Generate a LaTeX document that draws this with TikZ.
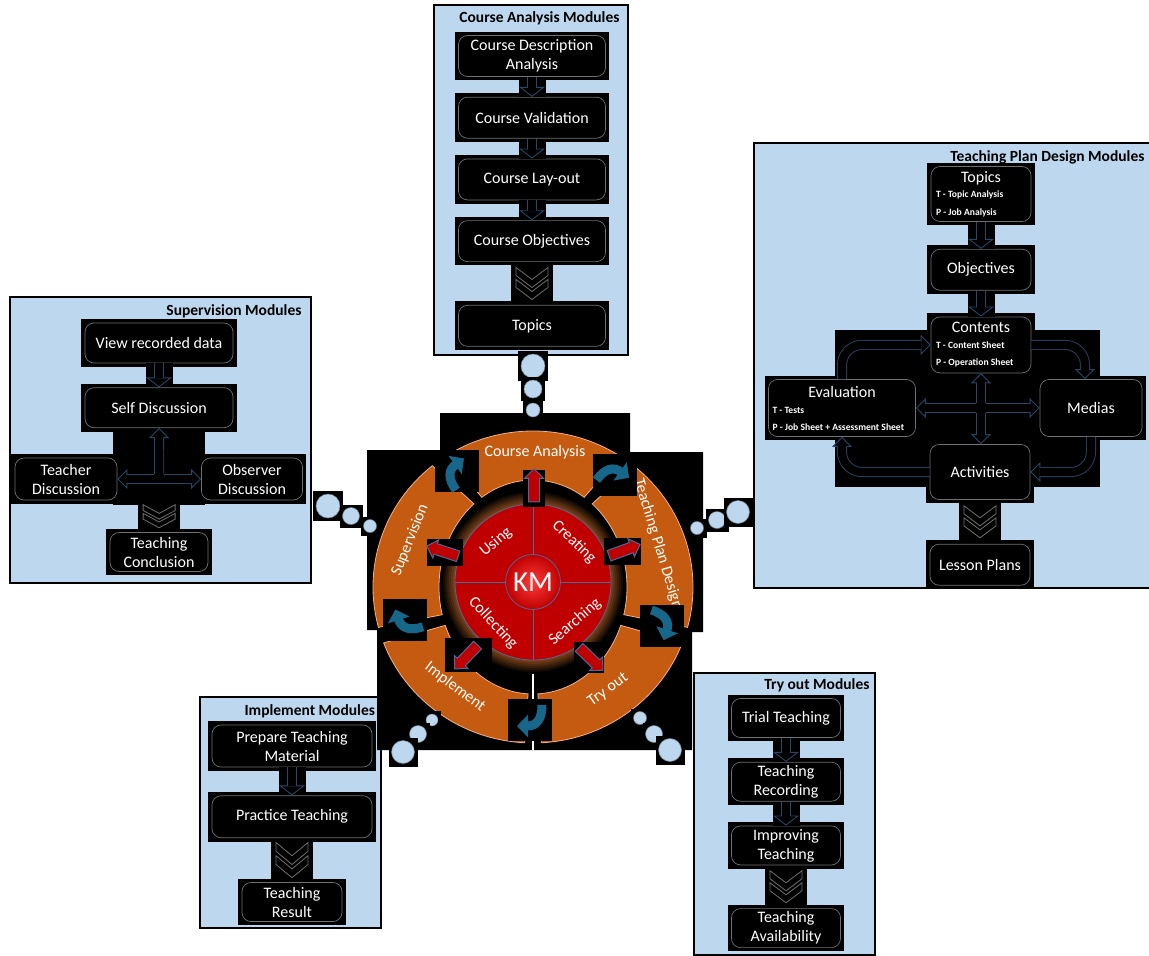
\documentclass[tikz,border=0pt]{standalone}
\usepackage{fontspec}
\setmainfont{Carlito}
\usetikzlibrary{arrows.meta,positioning,fit,backgrounds,calc,shapes.arrows}
\definecolor{skyFill}{HTML}{BDD7EE}
\definecolor{stageDraw}{HTML}{707070}
\definecolor{flowDraw}{HTML}{2A4566}
\definecolor{ringOrange}{HTML}{C55A11}
\definecolor{ringEdge}{HTML}{F4B183}
\definecolor{kmRed}{HTML}{C00000}
\definecolor{kmBright}{HTML}{FF3B3B}
\definecolor{rimBlue}{HTML}{4A6A9C}
\definecolor{glowBrown}{HTML}{8A4A1C}
\definecolor{turnTeal}{HTML}{17678A}
\newcommand{\detail}[1]{{\fontsize{9.6}{11}\selectfont\bfseries #1}}
\tikzset{
  font=\fontsize{16}{19}\selectfont,
  >={Triangle[length=10pt, width=20pt, fill=black, line width=0.9pt]},
  modbox/.style  ={draw=black, line width=2pt, fill=skyFill},
  modtitle/.style={font=\fontsize{15.5}{18}\selectfont\bfseries},
  stage/.style   ={draw=stageDraw, rounded corners=9pt, fill=black, text=white, align=center, inner sep=2pt, line width=0.7pt},
  backing/.style ={fill=black, inner sep=3.5pt},
  blockarr/.style={draw=flowDraw, line width=10pt, ->, postaction={draw=black, line width=8.2pt, shorten >=9pt, -}},
  twoarr/.style  ={draw=flowDraw, line width=10pt, <->, postaction={draw=black, line width=8.2pt, shorten >=9pt, shorten <=9pt, -}},
  flowarr/.style ={blockarr, -{Triangle[length=10pt, width=26pt, fill=black, line width=0.9pt]}, preaction={draw=black, line width=27pt, -}},
  chevline/.style={draw=stageDraw, line width=0.8pt},
  segment/.style ={fill=ringOrange, draw=ringEdge, line width=0.8pt},
  ringtext/.style={text=white, inner sep=0pt},
  outarr/.style  ={single arrow, fill=kmRed, draw=rimBlue, line width=1pt, minimum height=33pt, text height=5pt, text depth=5pt, single arrow head extend=4pt, inner sep=0pt},
  bubble/.style  ={fill=skyFill, draw=skyFill!60!black, line width=0.5pt},
  chev/.pic={
    \fill[black] (-21,-19) rectangle (21,19);
    \draw[chevline] (-16,-16) -- (0,-4) -- (16,-16) -- (16,-8) -- (0,4) -- (-16,-8) -- cycle;
    \draw[chevline] (-16,-4) -- (0,8) -- (16,-4) -- (16,4) -- (0,16) -- (-16,4) -- cycle;
  },
  turnarr/.pic={
    \draw[turnTeal, line width=9pt, -{Triangle[length=11pt, width=22pt]}]
      (-12,15) .. controls (-12,0) and (-6,-6) .. (13,-6);
  },
}
\begin{document}
\begin{tikzpicture}[x=1pt, y=-1pt]
  \useasboundingbox (0,0) rectangle (1149,956);

  % course analysis modules
  \begin{scope}[node distance=20pt, stage/.append style={minimum width=147pt, minimum height=41pt}]
    \node[stage]                 (cda)  at (532,56) {Course Description\\Analysis};
    \node[stage, below=of cda]   (cval) {Course Validation};
    \node[stage, below=of cval]  (clay) {Course Lay-out};
    \node[stage, below=of clay]  (cobj) {Course Objectives};
    \node[stage, below=43pt of cobj] (ctop) {Topics};
  \end{scope}
  \node[modtitle, anchor=east] (catitle) at (623,18) {Course Analysis Modules};
  \foreach \a/\b in {cda/cval, cval/clay, clay/cobj}
    \draw[flowarr] (\a) -- (\b);
  \pic at ($(cobj.south)!0.5!(ctop.north)$) {chev};
  \begin{scope}[on background layer]
    \draw[modbox] (434,5) rectangle (628,355);
    \foreach \n in {cda,cval,clay,cobj,ctop} \node[backing, fit=(\n)] {};
  \end{scope}

  % supervision modules
  \node[stage, minimum width=148pt, minimum height=40pt] (vrd) at (159,343) {View recorded data};
  \node[stage, minimum width=148pt, minimum height=40pt, below=24pt of vrd] (sdis) {Self Discussion};
  \node[stage, minimum width=102pt, minimum height=42pt] (tdis) at (66,479) {Teacher\\Discussion};
  \node[stage, minimum width=101pt, minimum height=42pt] (odis) at (252,479) {Observer\\Discussion};
  \node[stage, minimum width=98pt, minimum height=39pt] (tcon) at (159,552) {Teaching\\Conclusion};
  \node[modtitle, anchor=east] (suptitle) at (305,311) {Supervision Modules};
  \coordinate (hub) at ($(tdis.east)!0.5!(odis.west)$);
  \draw[flowarr] (vrd) -- (sdis);
  \draw[twoarr] (tdis) -- (odis);
  \draw[blockarr] (hub) -- (sdis);
  \fill[black] ($(hub)+(-5.2,-5.2)$) rectangle ($(hub)+(5.2,3.9)$);
  \pic[yscale=0.72] at ($(tdis.south -| hub)!0.5!(tcon.north)$) {chev};
  \begin{scope}[on background layer]
    \draw[modbox] (10,297) rectangle (311,583);
    \fill[black] (113,427) rectangle (205,505);
    \foreach \n in {vrd,sdis,tdis,odis,tcon} \node[backing, fit=(\n)] {};
  \end{scope}

  % teaching plan design modules
  \node[stage, minimum width=100pt, minimum height=55pt, align=flush left, text width=90pt] (topics) at (981,194)
    {\makebox[90pt]{Topics}\\[-4pt]\detail{T - Topic Analysis}\\[-1pt]\detail{P - Job Analysis}};
  \node[stage, minimum width=100pt, minimum height=41pt, below=27pt of topics] (objectives) {Objectives};
  \node[stage, minimum width=100pt, minimum height=56pt, align=flush left, text width=90pt, below=26pt of objectives] (contents)
    {\makebox[90pt]{Contents}\\[-3pt]\detail{T - Content Sheet}\\[-2pt]\detail{P - Operation Sheet}};
  \node[stage, minimum width=147pt, minimum height=57pt, align=flush left, text width=139pt] (eval) at (842,408)
    {\makebox[139pt]{Evaluation}\\[-3pt]\detail{T - Tests}\\[-2pt]\detail{P - Job Sheet + Assessment Sheet}};
  \node[stage, minimum width=102pt, minimum height=57pt] (medias) at (1091,408) {Medias};
  \node[stage, minimum width=100pt, minimum height=55pt] (activities) at (980,472) {Activities};
  \node[stage, minimum width=100pt, minimum height=41pt, below=44pt of activities] (lessons) {Lesson Plans};
  \node[modtitle, anchor=east] (tpdtitle) at (1148,157) {Teaching Plan Design Modules};
  \draw[flowarr] (topics) -- (objectives);
  \draw[flowarr] (objectives) -- (contents);
  \draw[blockarr, rounded corners=20pt] (eval.north) |- (contents.west);
  \draw[blockarr, rounded corners=20pt] (contents.east) -| ([xshift=-6pt]medias.north);
  \draw[blockarr, rounded corners=20pt] (medias.south) |- (activities.east);
  \draw[blockarr, rounded corners=20pt] (activities.west) -| (eval.south);
  \draw[twoarr] (contents.south) -- (contents.south |- activities.north);
  \draw[twoarr] (eval.east) -- (medias.west);
  \fill[black] ($(contents.south |- eval.east)+(-5.2,-5.2)$) rectangle ++(10.4,10.4);
  \pic at ($(activities.south)!0.5!(lessons.north)$) {chev};
  \begin{scope}[on background layer]
    \draw[modbox] (754,143) rectangle (1152,588);
    \fill[black] (835,330) rectangle (1100,487);
    \foreach \n in {topics,objectives,contents,eval,medias,activities,lessons} \node[backing, fit=(\n)] {};
  \end{scope}

  % implement modules
  \node[stage, minimum width=160pt, minimum height=42pt] (prep) at (292,746) {Prepare Teaching\\Material};
  \node[stage, minimum width=160pt, minimum height=42pt, below=28pt of prep] (prac) {Practice Teaching};
  \node[stage, minimum width=100pt, minimum height=39pt] (tres) at (292,902) {Teaching\\Result};
  \node[modtitle, anchor=west] (imptitle) at (241,711) {Implement Modules};
  \draw[flowarr] (prep) -- (prac);
  \pic[yscale=1.1] at ($(prac.south)!0.5!(tres.north)$) {chev};
  \begin{scope}[on background layer]
    \draw[modbox] (200,697) rectangle (381,928);
    \foreach \n in {prep,prac,tres} \node[backing, fit=(\n)] {};
  \end{scope}

  % try out modules
  \begin{scope}[node distance=24pt, stage/.append style={minimum width=109pt, minimum height=39pt}]
    \node[stage]                 (trial) at (786,718) {Trial Teaching};
    \node[stage, below=of trial] (trec)  {Teaching\\Recording};
    \node[stage, below=of trec]  (impr)  {Improving\\Teaching};
    \node[stage, below=43pt of impr] (avail) {Teaching\\Availability};
  \end{scope}
  \node[modtitle, anchor=east] (trytitle) at (873,685) {Try out Modules};
  \foreach \a/\b in {trial/trec, trec/impr}
    \draw[flowarr] (\a) -- (\b);
  \pic at ($(impr.south)!0.5!(avail.north)$) {chev};
  \begin{scope}[on background layer]
    \draw[modbox] (694,673) rectangle (875,955);
    \foreach \n in {trial,trec,impr,avail} \node[backing, fit=(\n)] {};
  \end{scope}

  % KM wheel
  \fill[black] (440,413) -- (630,413) -- (630,452) -- (703,452) -- (703,632) -- (692,632)
    -- (692,750) -- (377,750) -- (377,630) -- (367,630) -- (367,450) -- (440,450) -- cycle;
  \draw[white, line width=1.2pt] (533,673) -- (533,750);
  \begin{scope}[shift={(533,587)}, yscale=-1]
    \foreach \a in {90,18,-54,-126,162}
      \filldraw[segment] (\a+33:160 and 156) arc[start angle=\a+33, end angle=\a-33, x radius=160, y radius=156]
        -- (\a-33:94 and 107) arc[start angle=\a-33, end angle=\a+33, x radius=94, y radius=107] -- cycle;
    \foreach \r/\m in {92/0,90/14,88/28,86/42,84/56,82/70,80/84}
      \fill[glowBrown!\m!black] (0,5) circle (\r);
    \node[circle, fill=kmRed, draw=rimBlue, line width=0.8pt, minimum size=156pt] (wheel) at (0,5) {};
    \node[circle, inner color=kmBright, outer color=kmRed, draw=rimBlue, line width=0.8pt, minimum size=55pt,
          inner sep=0pt, text=white, font=\fontsize{29}{30}\selectfont] (km) at (0,5) {KM};
    \foreach \s in {north,south,east,west}
      \draw[rimBlue, line width=0.8pt] (km.\s) -- (wheel.\s);
  \end{scope}
  \node[ringtext]             (lca)  at (535,452) {Course Analysis};
  \node[ringtext, rotate=-73] (ltpd) at (658,544) {Teaching Plan Design};
  \node[ringtext, rotate=36]  (ltry) at (608,690) {Try out};
  \node[ringtext, rotate=-37] (limp) at (455,687) {Implement};
  \node[ringtext, rotate=68]  (lsup) at (410,540) {Supervision};
  \node[ringtext, rotate=40]  (quse) at (496,542) {Using};
  \node[ringtext, rotate=-44] (qcre) at (574,542) {Creating};
  \node[ringtext, rotate=-47] (qcol) at (493,623) {Collecting};
  \node[ringtext, rotate=41]  (qsea) at (575,622) {Searching};
  \foreach \x/\y/\a/\w/\h in {534/488/90/22/37, 445/552/162/36/27, 622/551/20/37/27, 468/655/226/47/34, 589/657/-44/30/31}
  { \fill[black] (\x-\w/2,\y-\h/2) rectangle ++(\w,\h);
    \node[outarr, rotate=\a] at (\x,\y) {}; }
  \foreach \x/\y/\a in {457/471/36, 615/475/-36, 662/626/-108, 530/720/180, 405/620/108}
  { \fill[black] (\x-22,\y-21) rectangle ++(44,42);
    \pic[rotate=\a] at (\x,\y) {turnarr}; }

  % bubbles
  \foreach \x/\y/\r in {533/366/12, 533/389/9, 533/410/7, 328/506/12, 351/516/8.5, 370/526/6.5,
                        697/528/6.5, 717/520/8.5, 738/512/11.5, 432/720/6, 418/734/8.5, 403/752/11.5,
                        640/718/6.5, 654/734/8.5, 670/750/11.5}
  { \fill[black] (\x-\r-3,\y-\r-3) rectangle (\x+\r+3,\y+\r+3);
    \filldraw[bubble] (\x,\y) circle (\r); }
\end{tikzpicture}
\end{document}
